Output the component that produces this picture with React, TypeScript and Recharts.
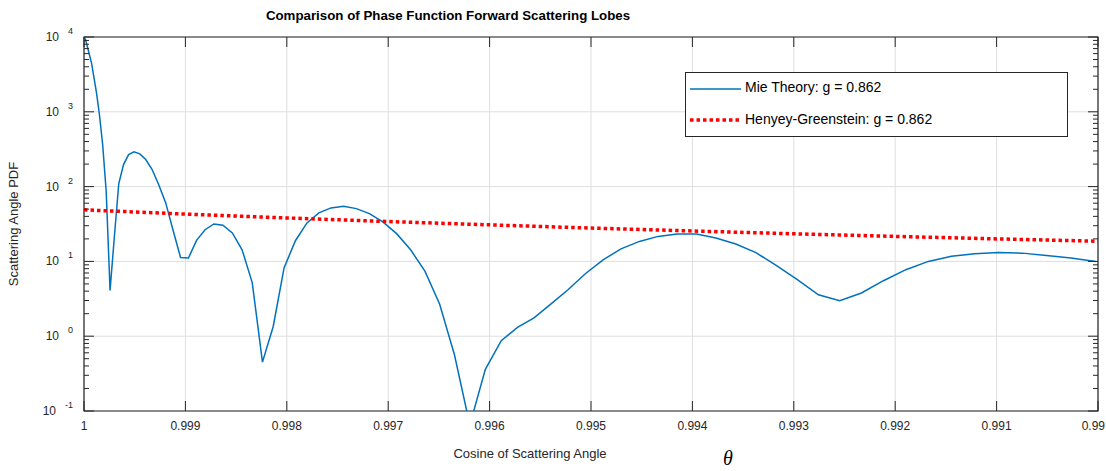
import {
  CartesianGrid,
  Legend,
  Line,
  LineChart,
  ReferenceArea,
  XAxis,
  YAxis,
} from "recharts";

// Mie theory phase function
const mieCos = [
  1.0, 0.999986, 0.999962, 0.999925, 0.999877, 0.999848, 0.999816, 0.999781,
  0.999743, 0.999701, 0.999657, 0.99961, 0.99956, 0.999507, 0.99945, 0.999391,
  0.999328, 0.999263, 0.999194, 0.999123, 0.999048, 0.99897, 0.99889, 0.998806,
  0.998719, 0.99863, 0.998537, 0.998441, 0.998341, 0.99824, 0.998134, 0.998027,
  0.997915, 0.997801, 0.997684, 0.997564, 0.99744, 0.997314, 0.997185,
  0.997053, 0.996917, 0.996779, 0.996638, 0.996493, 0.996346, 0.996195,
  0.996042, 0.995885, 0.995725, 0.995562, 0.995397, 0.995227, 0.995056,
  0.994881, 0.994704, 0.994522, 0.994338, 0.994151, 0.99396, 0.993768,
  0.993572, 0.993373, 0.99317, 0.992965, 0.992757, 0.992547, 0.992333,
  0.992116, 0.991895, 0.991673, 0.991445, 0.991215, 0.990983, 0.990746,
  0.990508, 0.990266, 0.990023,
];
const miePdf = [
  9800, 9290, 7030, 4440, 1810, 920, 365, 86, 4.1, 21, 110, 197, 268, 291, 274,
  230, 169, 106, 60.5, 26.5, 11.3, 11.1, 19.1, 26.5, 31.7, 30.4, 24.0, 14.3,
  5.2, 0.45, 1.35, 8.2, 18.9, 32.7, 44.5, 51.9, 54.5, 50.8, 43.5, 33.7, 23.5,
  14.3, 7.4, 2.7, 0.56, 0.065, 0.36, 0.87, 1.31, 1.76, 2.69, 4.18, 6.84, 10.5,
  14.7, 18.5, 21.6, 23.3, 23.2, 20.6, 17.1, 13.1, 8.75, 5.69, 3.58, 2.98, 3.78,
  5.52, 7.75, 10.0, 11.7, 12.7, 13.2, 12.9, 12.0, 11.1, 10.0,
];

// Henyey-Greenstein curve
const hgCos = [1, 0.999, 0.998, 0.997, 0.996, 0.995, 0.994, 0.993, 0.992, 0.991, 0.99];
const hgPdf = [48.9, 42.9, 38.1, 34.1, 30.8, 27.9, 25.5, 23.4, 21.6, 20.0, 18.6];

const xTicks = [1, 0.999, 0.998, 0.997, 0.996, 0.995, 0.994, 0.993, 0.992, 0.991, 0.99];
const yMajor = [0.1, 1, 10, 100, 1000, 10000];
const yExponents = ["-1", "0", "1", "2", "3", "4"];
const yMinor = [
  0.2, 0.3, 0.4, 0.5, 0.6, 0.7, 0.8, 0.9, 2, 3, 4, 5, 6, 7, 8, 9, 20, 30, 40,
  50, 60, 70, 80, 90, 200, 300, 400, 500, 600, 700, 800, 900, 2000, 3000, 4000,
  5000, 6000, 7000, 8000, 9000,
];

const mieData = mieCos.map((c, i) => ({ cos: c, pdf: miePdf[i] }));
const hgData = hgCos.map((c, i) => ({ cos: c, pdf: hgPdf[i] }));

const PLOT_LEFT = 84;
const PLOT_RIGHT = 1098;
const PLOT_TOP = 37;
const PLOT_BOTTOM = 411;
const AXIS = "#262626";
const FONT = '"Liberation Sans", Arial, Helvetica, sans-serif';

function XTick(props: any) {
  const { x, payload } = props;
  const last = payload.value === 0.99;
  return (
    <g>
      <line x1={x} x2={x} y1={PLOT_BOTTOM} y2={PLOT_BOTTOM - 10} stroke={AXIS} />
      <line x1={x} x2={x} y1={PLOT_TOP} y2={PLOT_TOP + 10} stroke={AXIS} />
      <text
        x={last ? 1105 : x}
        y={PLOT_BOTTOM + 19}
        textAnchor={last ? "end" : "middle"}
        fontSize={12}
        fill={AXIS}
      >
        {String(payload.value)}
      </text>
    </g>
  );
}

function YTick(props: any) {
  const { y, payload } = props;
  const idx = yMajor.indexOf(payload.value);
  const len = idx >= 0 ? 10 : 5;
  return (
    <g>
      <line x1={PLOT_LEFT} x2={PLOT_LEFT + len} y1={y} y2={y} stroke={AXIS} />
      <line x1={PLOT_RIGHT} x2={PLOT_RIGHT - len} y1={y} y2={y} stroke={AXIS} />
      {idx >= 0 && (
        <text x={73} y={y + 4} textAnchor="end" fontSize={12} fill={AXIS}>
          10
          <tspan dx={9} dy={-7} fontSize={9}>
            {yExponents[idx]}
          </tspan>
        </text>
      )}
    </g>
  );
}

function LegendBox() {
  return (
    <svg width={383} height={65} style={{ display: "block" }}>
      <rect x={0.5} y={0.5} width={382} height={64} fill="#fff" stroke={AXIS} />
      <line x1={5} x2={56} y1={17} y2={17} stroke="#0072BD" strokeWidth={1.5} />
      <text x={60} y={20} fontSize={14} fill="#000">
        Mie Theory: g = 0.862
      </text>
      <line
        x1={5}
        x2={56}
        y1={48}
        y2={48}
        stroke="#FF0000"
        strokeWidth={3.5}
        strokeDasharray="3.5 3"
      />
      <text x={60} y={52} fontSize={14} fill="#000">
        Henyey-Greenstein: g = 0.862
      </text>
    </svg>
  );
}

export default function App() {
  return (
    <div
      style={{
        position: "absolute",
        left: 0,
        top: 0,
        width: 1106,
        height: 471,
        background: "#fff",
        fontFamily: FONT,
      }}
    >
      <LineChart
        width={1106}
        height={471}
        margin={{ top: PLOT_TOP, right: 1106 - PLOT_RIGHT, bottom: 30, left: 34 }}
      >
        <CartesianGrid
          stroke="#dedede"
          horizontalValues={yMajor}
          verticalValues={xTicks}
        />
        <XAxis
          dataKey="cos"
          type="number"
          domain={[0.99, 1]}
          reversed
          allowDataOverflow
          ticks={xTicks}
          interval={0}
          height={30}
          axisLine={false}
          tickLine={false}
          tick={<XTick />}
          label={{
            content: () => (
              <text x={530} y={458} textAnchor="middle" fontSize={13} fill={AXIS}>
                Cosine of Scattering Angle
              </text>
            ),
          }}
        />
        <YAxis
          dataKey="pdf"
          type="number"
          scale="log"
          domain={[0.1, 10000]}
          allowDataOverflow
          ticks={[...yMajor, ...yMinor]}
          interval={0}
          width={50}
          axisLine={false}
          tickLine={false}
          tick={<YTick />}
          label={{
            content: () => (
              <text
                x={15}
                y={224}
                transform="rotate(-90 15 224)"
                textAnchor="middle"
                dominantBaseline="middle"
                fontSize={13}
                fill={AXIS}
              >
                Scattering Angle PDF
              </text>
            ),
          }}
        />
        <ReferenceArea
          x1={0.99}
          x2={1}
          y1={0.1}
          y2={10000}
          fill="none"
          fillOpacity={0}
          stroke={AXIS}
          strokeWidth={1.2}
        />
        <Line
          data={mieData}
          dataKey="pdf"
          name="Mie Theory: g = 0.862"
          type="linear"
          stroke="#0072BD"
          strokeWidth={1.5}
          dot={false}
          isAnimationActive={false}
        />
        <Line
          data={hgData}
          dataKey="pdf"
          name="Henyey-Greenstein: g = 0.862"
          type="linear"
          stroke="#FF0000"
          strokeWidth={3.5}
          strokeDasharray="3.5 3"
          dot={false}
          isAnimationActive={false}
        />
        <Legend
          layout="vertical"
          align="center"
          verticalAlign="middle"
          wrapperStyle={{ left: 685, top: 72, width: 383, height: 65 }}
          content={() => <LegendBox />}
        />
      </LineChart>
      <div
        style={{
          position: "absolute",
          left: 0,
          top: 8,
          width: 896,
          textAlign: "center",
          fontSize: 13.3,
          fontWeight: "bold",
          color: "#000",
        }}
      >
        Comparison of Phase Function Forward Scattering Lobes
      </div>
      <div
        style={{
          position: "absolute",
          left: 723,
          top: 448,
          fontFamily: '"Liberation Serif", "DejaVu Serif", serif',
          fontStyle: "italic",
          fontSize: 20,
          lineHeight: "20px",
          color: "#000",
        }}
      >
        θ
      </div>
    </div>
  );
}
